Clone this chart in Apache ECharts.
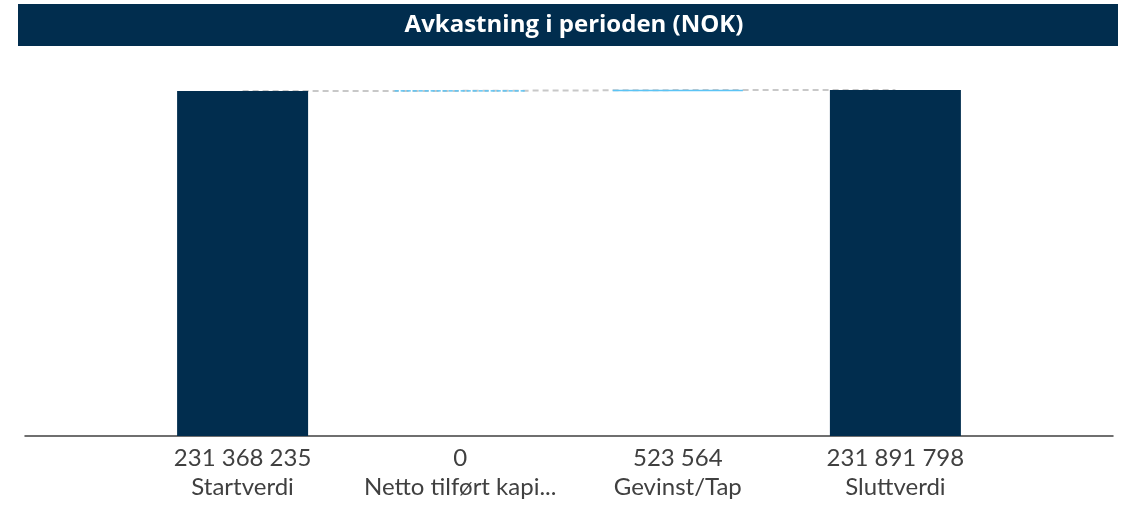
<!DOCTYPE html>
<html>
<head>
<meta charset="utf-8">
<script src="https://cdn.jsdelivr.net/npm/echarts@6/dist/echarts.min.js"></script>
<style>
  html, body { margin: 0; padding: 0; background: #fff; }
  #chart { width: 1121px; height: 510px; }
</style>
</head>
<body>
<div id="chart"></div>
<script>
// kategorier og verdier
var categories = ["Startverdi", "Netto tilført kapi...", "Gevinst/Tap", "Sluttverdi"];
var values = [231368235, 0, 523564, 231891798];
var isTotal = [true, false, false, true];

var navy = "#012d4e";
var lightBlue = "#5bc4f5";

// tom kategori på hver side slik at aksen går helt ut
var xData = [""].concat(categories).concat([""]);

function fmt(n) {
  return String(n).replace(/\B(?=(\d{3})+(?!\d))/g, " ");
}

// bygg fossefall (base + synlig del)
var base = [null];
var visible = [null];
var level = [null];
var running = 0;
values.forEach(function (v, i) {
  if (isTotal[i]) {
    base.push(0);
    visible.push({ value: v, itemStyle: { color: navy } });
    running = v;
  } else {
    base.push(running);
    visible.push({
      value: v,
      itemStyle: {
        color: lightBlue,
        borderColor: lightBlue,
        borderWidth: v === 0 ? 1 : 1.5,
        borderType: v === 0 ? "dashed" : "solid",
      },
    });
    running += v;
  }
  level.push(running);
});
base.push(null);
visible.push(null);
level.push(null);

var myChart = echarts.init(document.getElementById("chart"));
myChart.setOption({
  animation: false,
  graphic: [
    {
      type: "rect",
      left: 18,
      top: 4,
      shape: { width: 1100, height: 42 },
      style: { fill: navy },
      z: 0,
    },
  ],
  title: {
    text: "Avkastning i perioden (NOK)",
    left: 569,
    textAlign: "center",
    top: 8,
    textStyle: {
      color: "#ffffff",
      fontFamily: "Open Sans",
      fontWeight: "bold",
      fontSize: 24,
    },
  },
  grid: {
    left: 25,
    right: 8,
    top: 78,
    bottom: 74,
    containLabel: false,
  },
  xAxis: {
    type: "category",
    data: xData,
    boundaryGap: false,
    axisLine: { lineStyle: { color: "#404040", width: 1.5 } },
    axisTick: { show: false },
    axisLabel: {
      interval: 0,
      margin: 8,
      color: "#404040",
      fontFamily: "Lato",
      fontSize: 24,
      lineHeight: 29,
      formatter: function (val, idx) {
        if (!val) return "";
        return fmt(values[idx - 1]) + "\n" + val;
      },
    },
  },
  yAxis: {
    type: "value",
    min: 0,
    max: 240000000,
    show: false,
    splitLine: { show: false },
  },
  series: [
    {
      type: "line",
      data: level,
      symbol: "none",
      z: 1,
      lineStyle: { color: "#c8c8c8", width: 2, type: [6, 4] },
    },
    {
      type: "bar",
      stack: "wf",
      data: base,
      barWidth: 131,
      itemStyle: { color: "transparent" },
      z: 2,
    },
    {
      type: "bar",
      stack: "wf",
      data: visible,
      barWidth: 131,
      z: 3,
    },
  ],
});
</script>
</body>
</html>
